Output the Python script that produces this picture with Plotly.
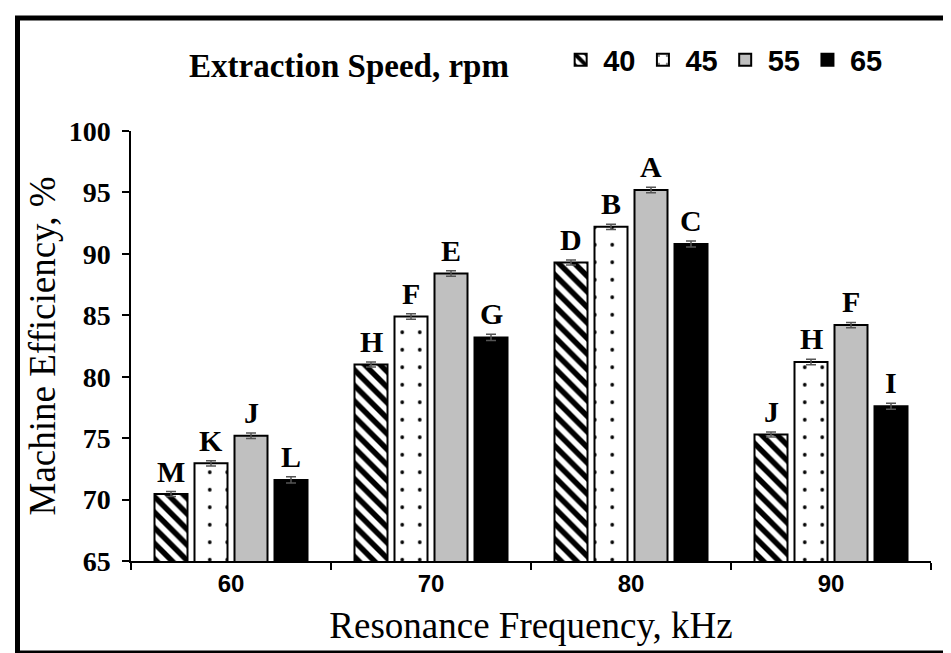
import plotly.graph_objects as go

categories = ["60", "70", "80", "90"]
speeds = ["40", "45", "55", "65"]
values_40 = [70.45, 81.0, 89.3, 75.3]
values_45 = [72.95, 84.9, 92.2, 81.2]
values_55 = [75.2, 88.4, 95.2, 84.2]
values_65 = [71.6, 83.2, 90.8, 77.6]
errors_40 = [0.2, 0.2, 0.2, 0.2]
errors_45 = [0.22, 0.22, 0.22, 0.22]
errors_55 = [0.22, 0.22, 0.22, 0.22]
errors_65 = [0.25, 0.25, 0.25, 0.25]
letters_40 = ["M", "H", "D", "J"]
letters_45 = ["K", "F", "B", "H"]
letters_55 = ["J", "E", "A", "F"]
letters_65 = ["L", "G", "C", "I"]

series = [
    (speeds[0], values_40, errors_40, letters_40,
     dict(color="white", pattern=dict(shape="\\", size=11, solidity=0.5, fgcolor="black",
                                      bgcolor="white", fgopacity=1))),
    (speeds[1], values_45, errors_45, letters_45,
     dict(color="white", pattern=dict(shape=".", size=17.5, solidity=0.035, fgcolor="black",
                                      bgcolor="white", fgopacity=1))),
    (speeds[2], values_55, errors_55, letters_55, dict(color="#c0c0c0")),
    (speeds[3], values_65, errors_65, letters_65, dict(color="black")),
]

fig = go.Figure()
for name, vals, errs, lets, mk in series:
    marker = dict(mk)
    marker["line"] = dict(color="black", width=2)
    fig.add_trace(go.Bar(
        name=name, x=categories, y=vals,
        marker=marker,
        error_y=dict(type="data", array=errs, visible=True, color="#555555", thickness=1.5, width=5),
    ))

# letter labels above each bar (x given as category index on the category axis)
slot_px = 40
for i, (name, vals, errs, lets, mk) in enumerate(series):
    for k, (v, e, t) in enumerate(zip(vals, errs, lets)):
        fig.add_annotation(
            x=k, y=v + e, xref="x", yref="y", text=t, showarrow=False,
            xanchor="center", yanchor="bottom", xshift=(i - 1.5) * slot_px, yshift=2,
            font=dict(family="Liberation Serif", size=30, color="black", weight="bold"),
        )

# outer frame around the whole picture
L, R, T, B = 123, 28, 123, 100
W, H = 951, 653
pw, ph = W - L - R, H - T - B
def px_x(p):
    return (p - L) / pw
def px_y(p):
    return (H - B - p) / ph
fig.add_shape(type="rect", xref="paper", yref="paper",
              x0=px_x(9.5), x1=px_x(945), y0=px_y(645), y1=px_y(10),
              line=dict(color="black", width=5), fillcolor="rgba(0,0,0,0)", layer="above")

fig.update_layout(
    width=W, height=H,
    margin=dict(l=L, r=R, t=T, b=B, autoexpand=False),
    paper_bgcolor="white", plot_bgcolor="white",
    barmode="group", bargap=0.2, bargroupgap=0.175,
    showlegend=True,
    legend=dict(
        orientation="h", x=0.07, xanchor="left", y=1.163, yanchor="middle",
        title=dict(text="Extraction Speed, rpm\u00a0\u00a0\u00a0\u00a0\u00a0",
                   side="left",
                   font=dict(family="Liberation Serif", size=33, color="black", weight="bold")),
        font=dict(family="Liberation Sans", size=29, color="black", weight="bold"),
        itemwidth=35, bgcolor="rgba(0,0,0,0)",
    ),
    xaxis=dict(
        type="category", range=[-0.5, 3.5], showline=True, linecolor="black", linewidth=1.5,
        ticks="outside", tickson="boundaries", ticklen=7, tickwidth=1.5, tickcolor="black",
        tickfont=dict(family="Liberation Sans", size=24, color="black", weight="bold"),
        tickangle=0,
        title=dict(text="Resonance Frequency, kHz", standoff=17,
                   font=dict(family="Liberation Serif", size=37, color="black")),
        showgrid=False, zeroline=False,
    ),
    yaxis=dict(
        range=[65, 100], dtick=5, tick0=65, showline=True, linecolor="black", linewidth=1.5,
        ticks="outside", ticklen=7, tickwidth=1.5, tickcolor="black",
        tickfont=dict(family="Liberation Serif", size=28, color="black", weight="bold"),
        ticklabelstandoff=6,
        title=dict(text="Machine Efficiency, %", standoff=2,
                   font=dict(family="Liberation Serif", size=37, color="black")),
        showgrid=False, zeroline=False,
    ),
)

fig.write_html("out.html")
